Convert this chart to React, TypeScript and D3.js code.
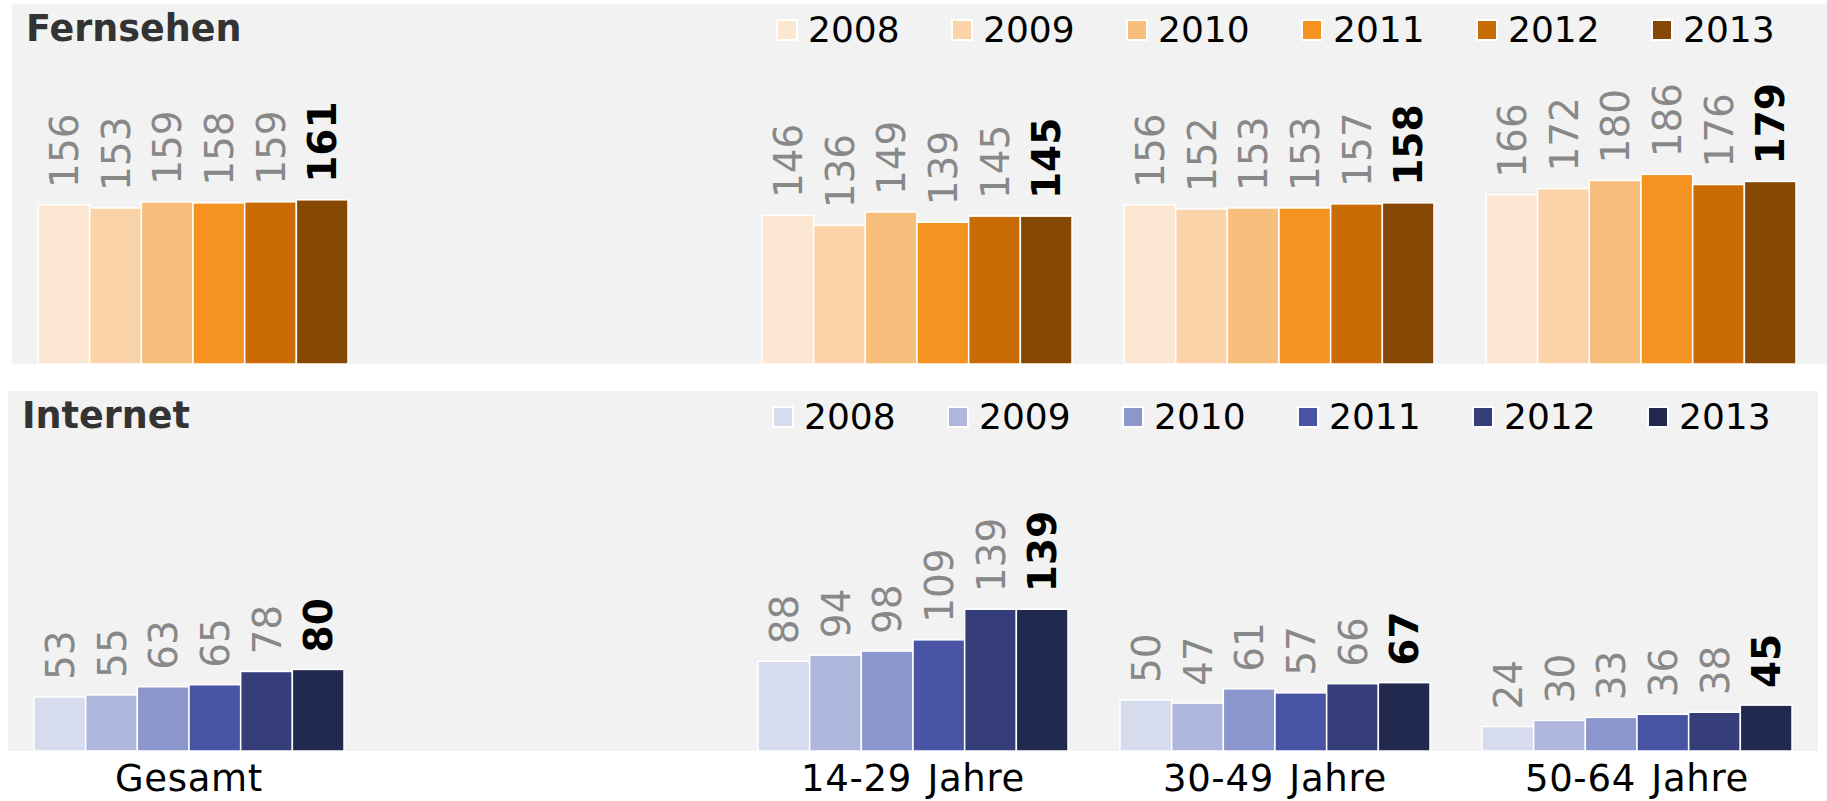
import * as d3 from "d3";

const years = ["2008", "2009", "2010", "2011", "2012", "2013"];
const categories = ["Gesamt", "14-29 Jahre", "30-49 Jahre", "50-64 Jahre"];

const tvValues = [
  [156, 153, 159, 158, 159, 161],
  [146, 136, 149, 139, 145, 145],
  [156, 152, 153, 153, 157, 158],
  [166, 172, 180, 186, 176, 179],
];
const webValues = [
  [53, 55, 63, 65, 78, 80],
  [88, 94, 98, 109, 139, 139],
  [50, 47, 61, 57, 66, 67],
  [24, 30, 33, 36, 38, 45],
];

const tvColors = ["#fce7d2", "#fbd3a8", "#f8be7b", "#f59220", "#c96c06", "#864805"];
const webColors = ["#d7dbee", "#b0b7dd", "#8b97cc", "#4853a4", "#363e7a", "#22294f"];

const W = 1827,
  H = 801;
const FONT = "'DejaVu Sans', Verdana, sans-serif";
const panelH = 360;
const yMax = 353;

// empty slot between Gesamt and the age groups
const slots = [categories[0], "_gap", ...categories.slice(1)];

function Panel({ title, values, colors, left, top, width, showAxis }) {
  const x = d3.scaleBand().domain(slots).range([left + 26, left + 1784]).paddingInner(0.1436).paddingOuter(0);
  const xi = d3.scaleBand().domain(years).range([0, x.bandwidth()]).padding(0);
  const y = d3.scaleLinear().domain([0, yMax]).range([top + panelH, top]);
  const legendX = d3.scalePoint().domain(years).range([left + 765, left + 765 + 175 * 5]);

  return (
    <g>
      <rect x={left} y={top} width={width} height={panelH} fill="#f2f2f2" />
      <text x={left + 14} y={top + 37} fontFamily={FONT} fontWeight="bold" fontSize={36.5} fill="#333">
        {title}
      </text>
      {years.map((yr, i) => (
        <g key={yr}>
          <rect
            x={legendX(yr)}
            y={top + 16}
            width={20}
            height={20}
            fill={colors[i]}
            stroke="#fff"
            strokeWidth={2}
          />
          <text x={legendX(yr) + 31} y={top + 38} fontFamily={FONT} fontSize={36} fill="#000">
            {yr}
          </text>
        </g>
      ))}
      {categories.map((cat, ci) => (
        <g key={cat}>
          {years.map((yr, i) => {
            const v = values[ci][i];
            const bx = x(cat) + xi(yr);
            const last = i === years.length - 1;
            const cx = bx + xi.bandwidth() / 2;
            const ty = y(v) - 17;
            return (
              <g key={yr}>
                <rect
                  x={bx}
                  y={y(v)}
                  width={xi.bandwidth()}
                  height={y(0) - y(v)}
                  fill={colors[i]}
                  stroke="#fff"
                  strokeWidth={1.5}
                />
                <text
                  transform={`translate(${cx},${ty}) rotate(-90)`}
                  dy="0.36em"
                  fontFamily={FONT}
                  fontSize={39}
                  fontWeight={last ? "bold" : "normal"}
                  fill={last ? "#000" : "#888"}
                >
                  {v}
                </text>
              </g>
            );
          })}
          {showAxis && (
            <text
              x={x(cat) + x.bandwidth() / 2}
              y={top + panelH + 40}
              textAnchor="middle"
              fontFamily={FONT}
              fontSize={37}
              letterSpacing={0.7}
              wordSpacing={3}
              fill="#000"
            >
              {cat}
            </text>
          )}
        </g>
      ))}
    </g>
  );
}

export default function App() {
  return (
    <>
      <style>{`body{margin:0}`}</style>
      <svg width={W} height={H} style={{ display: "block", background: "#fff" }}>
        <Panel title="Fernsehen" values={tvValues} colors={tvColors} left={12} top={4} width={1815} showAxis={false} />
        <Panel title="Internet" values={webValues} colors={webColors} left={8} top={391} width={1810} showAxis={true} />
      </svg>
    </>
  );
}
